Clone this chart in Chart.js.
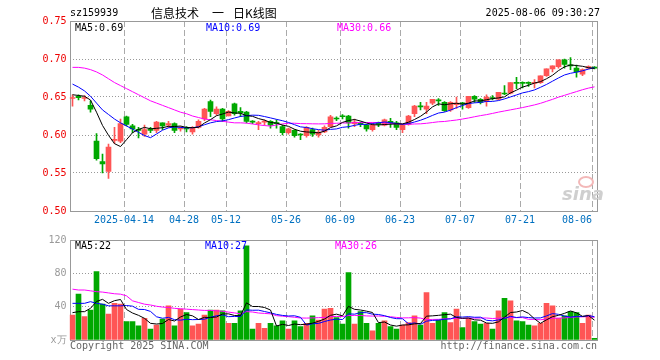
<!DOCTYPE html>
<html>
<head>
<meta charset="utf-8">
<script src="https://cdn.jsdelivr.net/npm/chart.js@4.4.1/dist/chart.umd.min.js"></script>
<style>
  body { margin: 0; background: #fff; }
  #wrap { position: relative; width: 660px; height: 360px; overflow: hidden; }
  canvas { position: absolute; left: 0; }
  .t { position: absolute; font: 10px/12px "DejaVu Sans Mono", monospace; white-space: pre; color: #000; }
  .cn { position: absolute; top: 6px; font: 12px/14px "Noto Sans CJK SC", sans-serif; white-space: pre; color: #000; }
</style>
</head>
<body>
<div id="wrap">
  <canvas id="kline" width="660" height="230" style="top:0"></canvas>
  <canvas id="vol" width="660" height="130" style="top:230px"></canvas>

  <div class="t" style="left:70px;top:7px">sz159939</div>
  <div class="cn" style="left:151px">信息技术</div>
  <div class="cn" style="left:212px">一</div>
  <div class="cn" style="left:233px">日K线图</div>
  <div class="t" style="right:60px;top:7px">2025-08-06 09:30:27</div>

  <div class="t" style="left:75px;top:22px">MA5:0.69</div>
  <div class="t" style="left:206px;top:22px;color:#0000ff">MA10:0.69</div>
  <div class="t" style="left:337px;top:22px;color:#ff00ff">MA30:0.66</div>

  <div class="t" style="left:75px;top:240px">MA5:22</div>
  <div class="t" style="left:205px;top:240px;color:#0000ff">MA10:27</div>
  <div class="t" style="left:335px;top:240px;color:#ff00ff">MA30:26</div>

  <div class="t" style="left:70px;top:340px;color:#666">Copyright 2025 SINA.COM</div>
  <div class="t" style="right:63px;top:340px;color:#666">http://finance.sina.com.cn</div>

  <div style="position:absolute;left:578px;top:176px;width:12px;height:8px;border:2px solid #f3b8b8;border-radius:50%"></div>
  <div class="t" style="left:562px;top:184px;font:italic bold 18px/20px 'DejaVu Sans';color:#cfcfcf">sina</div>
</div>

<script>
// trading days shown on the chart
const dates = [
  '2025-03-31','2025-04-01','2025-04-02','2025-04-03','2025-04-07','2025-04-08','2025-04-09','2025-04-10','2025-04-11','2025-04-14',
  '2025-04-15','2025-04-16','2025-04-17','2025-04-18','2025-04-21','2025-04-22','2025-04-23','2025-04-24','2025-04-25','2025-04-28',
  '2025-04-29','2025-04-30','2025-05-06','2025-05-07','2025-05-08','2025-05-09','2025-05-12','2025-05-13','2025-05-14','2025-05-15',
  '2025-05-16','2025-05-19','2025-05-20','2025-05-21','2025-05-22','2025-05-23','2025-05-26','2025-05-27','2025-05-28','2025-05-29',
  '2025-05-30','2025-06-03','2025-06-04','2025-06-05','2025-06-06','2025-06-09','2025-06-10','2025-06-11','2025-06-12','2025-06-13',
  '2025-06-16','2025-06-17','2025-06-18','2025-06-19','2025-06-20','2025-06-23','2025-06-24','2025-06-25','2025-06-26','2025-06-27',
  '2025-06-30','2025-07-01','2025-07-02','2025-07-03','2025-07-04','2025-07-07','2025-07-08','2025-07-09','2025-07-10','2025-07-11',
  '2025-07-14','2025-07-15','2025-07-16','2025-07-17','2025-07-18','2025-07-21','2025-07-22','2025-07-23','2025-07-24','2025-07-25',
  '2025-07-28','2025-07-29','2025-07-30','2025-07-31','2025-08-01','2025-08-04','2025-08-05','2025-08-06'
];

// dates that get a label and a dashed line
const tickDates = ['2025-04-14','2025-04-28','2025-05-12','2025-05-26','2025-06-09','2025-06-23','2025-07-07','2025-07-21','2025-08-06'];
const tickText  = ['2025-04-14','04-28','05-12','05-26','06-09','06-23','07-07','07-21','08-06'];

const open = [
  0.648,0.651,0.648,0.639,0.592,0.565,0.552,0.593,0.592,0.624,
  0.612,0.607,0.601,0.607,0.606,0.616,0.613,0.615,0.608,0.609,
  0.604,0.610,0.621,0.644,0.628,0.634,0.625,0.641,0.631,0.630,
  0.618,0.615,0.617,0.618,0.616,0.611,0.603,0.606,0.601,0.599,
  0.607,0.600,0.604,0.611,0.622,0.625,0.625,0.615,0.615,0.613,
  0.607,0.615,0.613,0.618,0.616,0.607,0.614,0.628,0.638,0.634,
  0.642,0.646,0.643,0.633,0.640,0.642,0.636,0.651,0.647,0.644,
  0.649,0.647,0.655,0.655,0.669,0.669,0.669,0.668,0.669,0.678,
  0.687,0.690,0.699,0.692,0.688,0.680,0.688,0.689
];
const high = [
  0.653,0.653,0.652,0.645,0.602,0.575,0.588,0.610,0.621,0.625,
  0.614,0.610,0.613,0.610,0.618,0.616,0.618,0.616,0.611,0.611,
  0.611,0.620,0.635,0.646,0.637,0.635,0.632,0.642,0.636,0.631,
  0.619,0.618,0.620,0.619,0.620,0.613,0.609,0.607,0.602,0.611,
  0.609,0.606,0.612,0.626,0.624,0.627,0.626,0.621,0.617,0.614,
  0.616,0.617,0.621,0.622,0.618,0.614,0.626,0.639,0.643,0.643,
  0.647,0.648,0.644,0.644,0.650,0.643,0.651,0.652,0.648,0.653,
  0.652,0.656,0.665,0.669,0.676,0.670,0.670,0.673,0.678,0.687,
  0.691,0.699,0.700,0.702,0.692,0.687,0.691,0.690
];
const low = [
  0.638,0.646,0.645,0.630,0.567,0.550,0.543,0.589,0.590,0.612,
  0.603,0.596,0.598,0.603,0.603,0.607,0.610,0.603,0.605,0.604,
  0.601,0.609,0.619,0.624,0.626,0.618,0.625,0.626,0.624,0.616,
  0.615,0.607,0.613,0.609,0.609,0.600,0.601,0.597,0.594,0.597,
  0.598,0.597,0.603,0.611,0.619,0.621,0.609,0.611,0.611,0.605,
  0.605,0.611,0.612,0.610,0.607,0.603,0.613,0.624,0.633,0.628,
  0.640,0.639,0.631,0.631,0.635,0.634,0.635,0.643,0.641,0.638,
  0.646,0.646,0.653,0.654,0.661,0.662,0.664,0.662,0.668,0.677,
  0.683,0.688,0.688,0.686,0.676,0.678,0.687,0.687
];
const close = [
  0.649,0.649,0.649,0.634,0.569,0.562,0.584,0.594,0.615,0.614,
  0.608,0.606,0.607,0.606,0.617,0.612,0.615,0.606,0.609,0.608,
  0.610,0.618,0.634,0.631,0.634,0.621,0.631,0.628,0.629,0.618,
  0.617,0.616,0.618,0.613,0.615,0.603,0.608,0.599,0.600,0.610,
  0.601,0.604,0.610,0.624,0.621,0.624,0.616,0.617,0.614,0.608,
  0.613,0.614,0.620,0.616,0.610,0.613,0.625,0.638,0.637,0.638,
  0.647,0.645,0.632,0.643,0.642,0.641,0.651,0.647,0.643,0.650,
  0.648,0.656,0.654,0.669,0.668,0.668,0.668,0.669,0.678,0.687,
  0.691,0.699,0.693,0.691,0.683,0.686,0.690,0.688
];

// moving averages as drawn on the price panel
const ma5 = [
  0.653,0.652,0.651,0.646,0.6300,0.6126,0.5996,0.5886,0.5848,0.5938,
  0.6030,0.6074,0.6100,0.6082,0.6088,0.6096,0.6114,0.6112,0.6118,0.6100,
  0.6096,0.6102,0.6158,0.6202,0.6254,0.6276,0.6302,0.6290,0.6286,0.6254,
  0.6246,0.6216,0.6196,0.6164,0.6158,0.6130,0.6114,0.6076,0.6050,0.6040,
  0.6036,0.6028,0.6050,0.6098,0.6120,0.6166,0.6190,0.6204,0.6184,0.6158,
  0.6136,0.6132,0.6138,0.6142,0.6146,0.6146,0.6168,0.6204,0.6246,0.6302,
  0.6370,0.6410,0.6398,0.6410,0.6418,0.6406,0.6418,0.6448,0.6448,0.6464,
  0.6478,0.6488,0.6502,0.6554,0.6590,0.6630,0.6654,0.6684,0.6702,0.6740,
  0.6786,0.6848,0.6896,0.6922,0.6914,0.6904,0.6886,0.6876
];
const ma10 = [
  0.667,0.663,0.658,0.651,0.642,0.633,0.627,0.621,0.616,0.6119,
  0.6078,0.6035,0.5993,0.5965,0.6013,0.6063,0.6094,0.6106,0.6100,0.6094,
  0.6096,0.6108,0.6135,0.6160,0.6177,0.6186,0.6202,0.6224,0.6244,0.6254,
  0.6261,0.6259,0.6243,0.6225,0.6206,0.6188,0.6165,0.6136,0.6107,0.6099,
  0.6083,0.6071,0.6063,0.6074,0.6080,0.6101,0.6109,0.6127,0.6141,0.6139,
  0.6151,0.6161,0.6171,0.6163,0.6152,0.6141,0.6150,0.6171,0.6194,0.6224,
  0.6258,0.6289,0.6301,0.6328,0.6360,0.6388,0.6414,0.6423,0.6429,0.6441,
  0.6442,0.6453,0.6475,0.6501,0.6527,0.6554,0.6571,0.6593,0.6628,0.6665,
  0.6708,0.6751,0.6790,0.6812,0.6827,0.6845,0.6867,0.6886
];
const ma30 = [
  0.689,0.689,0.688,0.686,0.683,0.679,0.674,0.669,0.665,0.661,
  0.657,0.653,0.649,0.645,0.642,0.639,0.636,0.633,0.630,0.628,
  0.625,0.623,0.621,0.620,0.619,0.618,0.617,0.616,0.616,0.6156,
  0.6145,0.6134,0.6124,0.6117,0.6132,0.6146,0.6154,0.6155,0.6150,0.6149,
  0.6147,0.6146,0.6147,0.6153,0.6154,0.6158,0.6159,0.6162,0.6164,0.6164,
  0.6165,0.6164,0.6159,0.6154,0.6146,0.6143,0.6141,0.6145,0.6147,0.6154,
  0.6164,0.6174,0.6178,0.6188,0.6197,0.6210,0.6224,0.6240,0.6255,0.6268,
  0.6284,0.6301,0.6316,0.6331,0.6346,0.6361,0.6378,0.6396,0.6417,0.6443,
  0.6469,0.6498,0.6522,0.6547,0.6571,0.6596,0.6617,0.6634
];

// volume in 万
const volume = [
  30,55,28,36,82,43,31,44,43,22,
  22,17,26,13,18,25,41,17,37,33,
  17,19,30,36,36,35,20,20,35,113,
  13,20,14,20,17,23,13,23,16,20,
  29,24,37,38,27,19,81,19,34,20,
  11,20,23,16,13,18,21,29,18,57,
  20,24,33,21,37,15,26,22,19,20,
  13,35,50,47,23,22,18,17,20,44,
  41,26,29,34,33,20,30,2
];
const volMa5 = [
  32.8,34,34,38,46.2,48.8,44,47.2,48.6,36.6,
  32.4,29.6,26,20,19.2,19.8,24.6,22.8,27.6,30.6,
  29,24.6,27.2,27,27.6,31.2,31.4,29.4,29.2,44.6,
  40.2,40.2,39,36,16.8,18.8,17.4,19.2,18.4,19,
  20.2,22.4,25.2,29.6,31,29,40.4,36.8,36,34.6,
  33,20.8,21.6,18,16.6,18,18.2,19.4,19.8,28.6,
  29,29.6,30.4,31,27,26,26.4,24.2,23.8,20.4,
  20,21.8,27.4,33,33.6,35.4,32,25.4,20,24.2,
  28,29.6,32,34.8,32.6,28.4,29.2,23.8
];
const volMa10 = [
  44,44,44,46,44,43,41,41,41,41.4,
  40.6,36.8,36.6,34.3,27.9,26.1,27.1,24.4,23.8,24.9,
  24.4,24.6,25,27.3,29.1,30.1,28,28.3,28.1,36.1,
  35.7,35.8,34.2,32.6,30.7,29.5,28.8,29.1,27.2,17.9,
  19.5,19.9,22.2,24,25,24.6,31.4,31,32.8,32.8,
  31,30.6,29.2,27,25.6,25.5,19.5,20.5,18.9,22.6,
  23.5,23.9,24.9,25.4,27.8,27.5,28,27.3,27.4,23.7,
  23,24.1,25.8,28.4,27,27.7,26.9,26.4,26.5,28.9,
  31.7,30.8,28.7,27.4,28.4,28.2,29.4,27.9
];
const volMa30 = [
  61,60,60,59,58,57.5,56.5,55.5,55,53,
  47,45,43,42,40.5,39.5,39,38,37.5,37,
  36.5,36,35.5,35.5,35,34.5,33.5,32.5,31.5,34.1,
  33.6,32.4,31.9,31.4,29.2,28.6,28.0,27.3,26.4,26.3,
  26.5,26.8,27.1,28.0,28.3,28.1,29.4,29.5,29.4,28.9,
  28.7,28.8,28.5,27.9,27.1,26.5,26.6,26.9,26.3,24.4,
  24.7,24.8,25.4,25.5,26.1,25.9,26.3,26.3,26.4,26.4,
  25.8,26.2,26.6,26.9,26.8,26.9,24.8,24.7,24.3,25.1,
  26.1,26.3,26.5,27.1,27.7,27.8,28.1,27.2
];

const upColor = '#ff5555';
const downColor = '#00a800';
const barColor = close.map((c, i) => c >= open[i] ? upColor : downColor);

Chart.defaults.font.family = 'DejaVu Sans Mono';
Chart.defaults.font.size = 10;

// dashed date lines + gray frame round the plot area
const framePlugin = {
  id: 'frame',
  beforeDatasetsDraw(chart) {
    const { ctx, chartArea: a, scales: { x } } = chart;
    ctx.save();
    ctx.lineWidth = 1;
    ctx.strokeStyle = '#aaaaaa';
    ctx.setLineDash([6, 3]);
    dates.forEach((d, i) => {
      if (!tickDates.includes(d)) return;
      const px = Math.floor(x.getPixelForValue(i) - 2.5) + 0.5;
      ctx.beginPath();
      ctx.moveTo(px, a.top);
      ctx.lineTo(px, a.bottom);
      ctx.stroke();
    });
    ctx.setLineDash([]);
    ctx.strokeStyle = '#999999';
    const l = Math.ceil(a.left) + 0.5, r = Math.floor(a.right) + 0.5;
    const t = Math.round(a.top) + 0.5, b = Math.round(a.bottom) + 0.5;
    ctx.strokeRect(l, t, r - l, b - t);
    ctx.restore();
  }
};

function maLine(data, color) {
  return { type: 'line', data: data, borderColor: color, borderWidth: 1, pointRadius: 0, order: 0 };
}

// price panel
new Chart(document.getElementById('kline'), {
  data: {
    labels: dates,
    datasets: [
      maLine(ma5, '#000000'),
      maLine(ma10, '#0000ff'),
      maLine(ma30, '#ff00ff'),
      {
        type: 'bar',
        data: open.map((o, i) => [o, close[i]]),
        backgroundColor: barColor,
        barThickness: 5,
        minBarLength: 1,
        grouped: false,
        order: 1
      },
      {
        type: 'bar',
        data: low.map((l, i) => [l, high[i]]),
        backgroundColor: barColor,
        barThickness: 1,
        grouped: false,
        order: 2
      }
    ]
  },
  options: {
    responsive: false,
    animation: false,
    devicePixelRatio: 1,
    layout: { padding: { left: 0, right: 62.5, top: 21, bottom: 0 } },
    plugins: { legend: { display: false }, tooltip: { enabled: false } },
    scales: {
      x: {
        offset: true,
        grid: { display: false },
        border: { display: false },
        ticks: {
          autoSkip: false,
          maxRotation: 0,
          minRotation: 0,
          padding: -5,
          labelOffset: -2.5,
          color: '#0070c0',
          callback: (v, i) => {
            const k = tickDates.indexOf(dates[i]);
            if (k < 0) return '';
            // last date sits against the right edge, so it is pushed left
            return k === tickText.length - 1 ? tickText[k] + '     ' : tickText[k];
          }
        },
        afterFit: s => { s.height = 19; }
      },
      y: {
        min: 0.5,
        max: 0.75,
        grid: { color: '#999999', drawTicks: false },
        border: { display: false, dash: [1, 2] },
        ticks: { stepSize: 0.05, padding: 3, color: '#ee0000', callback: v => v.toFixed(2) },
        afterFit: s => { s.width = 69.5; }
      }
    }
  },
  plugins: [framePlugin]
});

// volume panel
new Chart(document.getElementById('vol'), {
  data: {
    labels: dates,
    datasets: [
      maLine(volMa5, '#000000'),
      maLine(volMa10, '#0000ff'),
      maLine(volMa30, '#ff00ff'),
      {
        type: 'bar',
        data: volume,
        backgroundColor: barColor,
        barThickness: 5,
        order: 1
      }
    ]
  },
  options: {
    responsive: false,
    animation: false,
    devicePixelRatio: 1,
    layout: { padding: { left: 0, right: 62.5, top: 10, bottom: 20 } },
    plugins: { legend: { display: false }, tooltip: { enabled: false } },
    scales: {
      x: { display: false, offset: true },
      y: {
        min: 0,
        max: 120,
        grid: { color: '#999999', drawTicks: false },
        border: { display: false, dash: [1, 2] },
        ticks: { stepSize: 40, padding: 3, color: '#999999', callback: v => v === 0 ? 'x万' : v },
        afterFit: s => { s.width = 69.5; }
      }
    }
  },
  plugins: [framePlugin]
});
</script>
</body>
</html>
